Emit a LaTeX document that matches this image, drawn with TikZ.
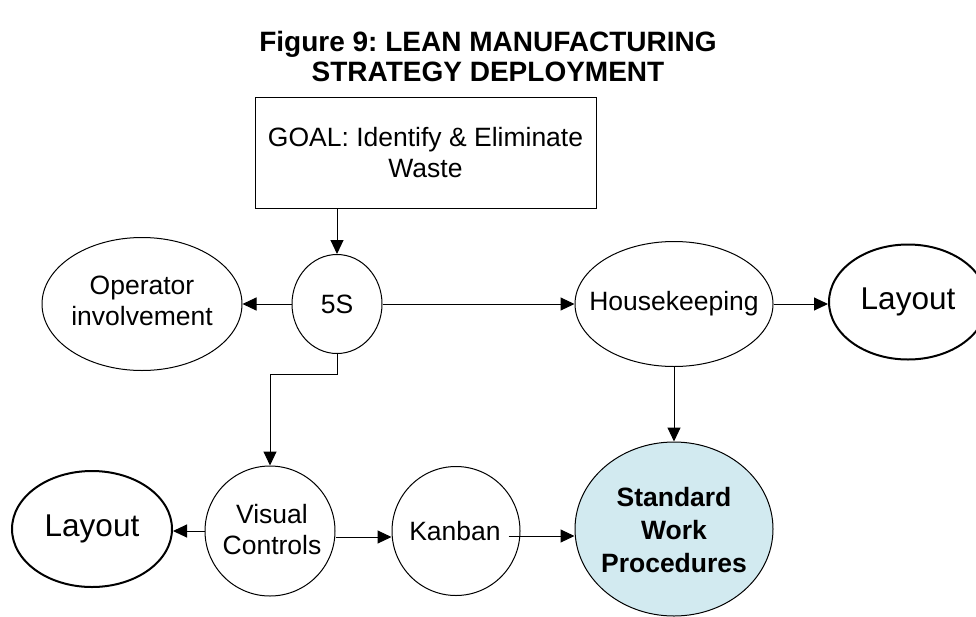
\documentclass[tikz,border=0pt]{standalone}
\usepackage{fontspec}
\setmainfont{Liberation Sans}
\usetikzlibrary{shapes.geometric,arrows.meta}
\frenchspacing
\definecolor{swpfill}{HTML}{D2EAF0}
\tikzset{
  thinline/.style={draw=black, line width=1pt},
  ell/.style={ellipse, thinline, inner sep=0pt, fill=white},
  thickell/.style={ellipse, draw=black, line width=2pt, inner sep=0pt, fill=white},
  txt/.style={font=\fontsize{26.5}{31}\selectfont, align=center, inner sep=0pt},
  bigtxt/.style={font=\fontsize{31.5}{36}\selectfont, align=center, inner sep=0pt},
  arr/.style={thinline, -{Triangle[length=14pt,width=13pt]}},
}
\begin{document}
\begin{tikzpicture}[x=1pt,y=-1pt]
\useasboundingbox (0,0) rectangle (976,616);
% title
\node[font=\fontsize{28}{30}\selectfont\bfseries, align=center, inner sep=0pt] (title) at (488,56)
  {Figure 9: LEAN MANUFACTURING\\STRATEGY DEPLOYMENT};
% goal box
\node[draw, line width=1pt, minimum width=341pt, minimum height=111pt, inner sep=0pt] (goal) at (425.5,152.5) {};
\node[txt] (goaltxt) at (425.5,152.5) {GOAL: Identify \& Eliminate\\Waste};
% ellipses
\node[ell, minimum width=90pt, minimum height=99pt] (s5) at (337,304) {};
\node[txt] (s5t) at (s5) {5S};
\node[ell, minimum width=200pt, minimum height=133pt] (op) at (142,304) {};
\node[txt] (opt) at (142,301) {Operator\\involvement};
\node[ell, minimum width=198pt, minimum height=125pt] (hk) at (674,304) {};
\node[txt] (hkt) at (674,304) {Housekeeping};
\node[thickell, minimum width=158pt, minimum height=115pt] (layR) at (908,302) {};
\node[bigtxt] (layRt) at (908,302) {Layout};
\node[ell, fill=swpfill, minimum width=198pt, minimum height=174pt] (swp) at (674,529) {};
\node[txt, font=\fontsize{26.5}{33}\selectfont\bfseries] (swpt) at (674,530) {Standard\\Work\\Procedures};
\node[ell, minimum width=128pt, minimum height=129pt] (kan) at (456,531) {};
\node[txt] (kant) at (455,531) {Kanban};
\node[ell, minimum width=130pt, minimum height=130pt] (vc) at (270,531) {};
\node[txt] (vct) at (272,530) {Visual\\Controls};
\node[thickell, minimum width=160pt, minimum height=116pt] (layL) at (92,529) {};
\node[bigtxt] (layLt) at (92,529) {Layout};
% connectors
\draw[arr] (goal.south -| s5.north) -- (s5.north);
\draw[arr] (s5.west) -- (op.east);
\draw[arr] (s5.east) -- (hk.west);
\draw[arr] (hk.east) -- (hk.east -| layR.west);
\draw[arr] (hk.south) -- (swp.north);
\draw[arr] (s5.south) -- ([yshift=-20pt]s5.south) -| (vc.north);
\draw[arr] (vc.west) -- (vc.west -| layL.east);
\draw[arr] ([yshift=-6pt]vc.east) -- ([yshift=-6pt]kan.west);
\coordinate (kanout) at ([xshift=-12pt,yshift=-5pt]kan.east);
\draw[arr] (kanout) -- (kanout -| swp.west);
\end{tikzpicture}
\end{document}
